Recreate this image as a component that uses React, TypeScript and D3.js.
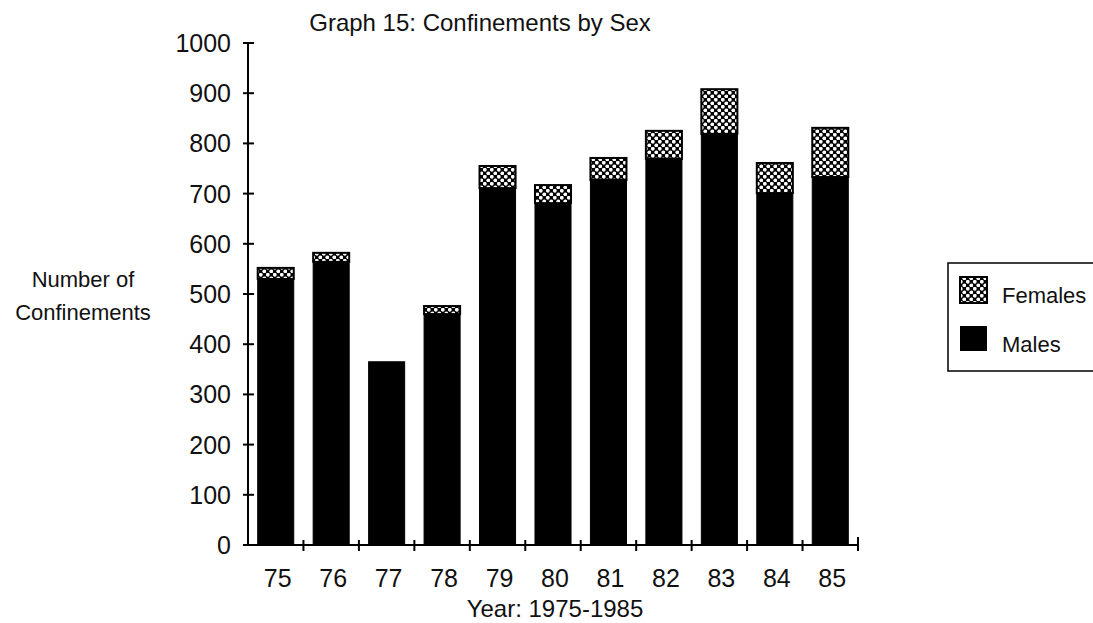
import React from 'react';
import { scaleBand, scaleLinear } from 'd3';

const years = ['75', '76', '77', '78', '79', '80', '81', '82', '83', '84', '85'];
const males = [530, 564, 365, 460, 711, 681, 727, 769, 819, 701, 733];
const females = [22, 18, 0, 16, 44, 36, 44, 56, 89, 60, 98];
const yTicks = [0, 100, 200, 300, 400, 500, 600, 700, 800, 900, 1000];

const W = 1093;
const H = 623;
const font = '"Liberation Sans", Arial, sans-serif';

const App = () => {
  const x = scaleBand<string>()
    .domain(years)
    .range([248, 858])
    .paddingInner(0.35)
    .paddingOuter(0.175);
  const y = scaleLinear().domain([0, 1000]).range([545, 43]);
  const step = x.step();

  return (
    <svg width={W} height={H} style={{ position: 'absolute', left: 0, top: 0, background: '#fff' }}>
      <defs>
        <pattern id="dots" width={7} height={7} patternUnits="userSpaceOnUse">
          <rect width={7} height={7} fill="#000" />
          <circle cx={1.8} cy={1.8} r={1.9} fill="#fff" />
          <circle cx={5.3} cy={5.3} r={1.9} fill="#fff" />
        </pattern>
      </defs>

      <text x={480} y={31} textAnchor="middle" fontFamily={font} fontSize={24} fill="#111">
        Graph 15: Confinements by Sex
      </text>

      {/* bars */}
      {years.map((yr, i) => {
        const x0 = x(yr)!;
        const bw = x.bandwidth();
        const total = males[i] + females[i];
        return (
          <g key={yr}>
            <rect x={x0} y={y(males[i])} width={bw} height={y(0) - y(males[i])} fill="#000" stroke="#000" strokeWidth={1} />
            {females[i] > 0 && (
              <rect x={x0} y={y(total)} width={bw} height={y(males[i]) - y(total)} fill="url(#dots)" stroke="#000" strokeWidth={2} />
            )}
          </g>
        );
      })}

      {/* y axis */}
      <line x1={248} x2={248} y1={y(1000)} y2={y(0)} stroke="#000" strokeWidth={2} />
      {yTicks.map((t) => (
        <g key={t}>
          <line x1={243} x2={254} y1={y(t)} y2={y(t)} stroke="#000" strokeWidth={2} />
          <text x={231} y={y(t) + 9} textAnchor="end" fontFamily={font} fontSize={25} fill="#111">
            {t}
          </text>
        </g>
      ))}

      {/* x axis */}
      <line x1={248} x2={858} y1={y(0)} y2={y(0)} stroke="#000" strokeWidth={2} />
      {years.map((yr, i) => {
        const tx = 248 + (i + 1) * step;
        const last = i === years.length - 1;
        return (
          <g key={yr}>
            <line x1={tx} x2={tx} y1={y(0) - (last ? 8 : 5)} y2={y(0) + 6} stroke="#000" strokeWidth={2} />
            <text x={x(yr)! + x.bandwidth() / 2 + 2} y={587} textAnchor="middle" fontFamily={font} fontSize={25} fill="#111">
              {yr}
            </text>
          </g>
        );
      })}

      <text x={555} y={617} textAnchor="middle" fontFamily={font} fontSize={24} fill="#111">
        Year: 1975-1985
      </text>

      <text x={83} y={287} textAnchor="middle" fontFamily={font} fontSize={22} fill="#111">
        Number of
      </text>
      <text x={83} y={320} textAnchor="middle" fontFamily={font} fontSize={22} fill="#111">
        Confinements
      </text>

      {/* legend */}
      <rect x={948} y={263} width={160} height={108} fill="none" stroke="#000" strokeWidth={1.5} />
      <rect x={960} y={277} width={27} height={26} fill="url(#dots)" stroke="#000" strokeWidth={2} />
      <text x={1002} y={303} fontFamily={font} fontSize={22} fill="#111">
        Females
      </text>
      <rect x={960} y={326} width={27} height={25} fill="#000" />
      <text x={1002} y={352} fontFamily={font} fontSize={22} fill="#111">
        Males
      </text>
    </svg>
  );
};

export default App;
